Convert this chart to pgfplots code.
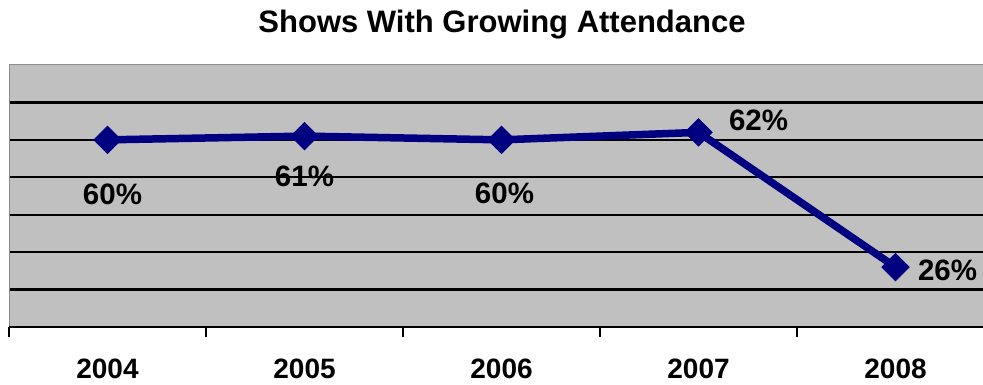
\documentclass[border=0pt]{standalone}
\usepackage{fontspec}
\setmainfont{Liberation Sans}
\usepackage{pgfplots}
\usepackage{pgfplotstable}
\pgfplotsset{compat=1.18}

\definecolor{plotbg}{HTML}{C0C0C0}
\definecolor{navyline}{HTML}{000080}
\definecolor{frameline}{HTML}{8C8C8C}

% year index, share of shows, label offsets (pt)
\pgfplotstableread{
x y dx dy
0 60 5 -54
1 61 0 -40
2 60 3 -53
3 62 60 12
4 26 52 -3
}\attendance

\begin{document}
\begin{tikzpicture}
\node[font=\fontsize{31}{36}\selectfont\bfseries, anchor=base] at (493pt,294pt) {Shows With Growing Attendance};
\begin{axis}[
  at={(0pt,0pt)}, anchor=south west,
  scale only axis, width=974pt, height=262pt,
  xmin=-0.5, xmax=4.444, ymin=10, ymax=80,
  axis background/.style={fill=plotbg},
  axis line style={draw=none},
  xtick={0,1,2,3,4},
  xticklabels={2004,2005,2006,2007,2008},
  xticklabel style={font=\fontsize{28}{33}\selectfont\bfseries, anchor=base, yshift=-47.5pt},
  major x tick style={draw=none},
  minor xtick={-0.5,0.5,1.5,2.5,3.5},
  minor x tick style={black, line width=1.8pt},
  minor tick length=10pt,
  tick align=outside,
  xtick pos=bottom,
  ytick={20,30,40,50,60,70},
  yticklabels={},
  ytick style={draw=none},
  ymajorgrids,
  major grid style={black, line width=2.2pt},
  clip=false,
  after end axis/.code={
    \draw[frameline, line width=1pt] (rel axis cs:0,0) -- (rel axis cs:0,1) -- (rel axis cs:1,1);
    \draw[black, line width=2.4pt] (rel axis cs:0,0) -- (rel axis cs:1,0);
  },
]
\addplot[
  navyline, line width=7.5pt,
  mark=square*, mark size=9.6pt,
  mark options={rotate=45, line width=1pt, fill=navyline},
  point meta=explicit,
  visualization depends on={\thisrow{dx} \as \dx},
  visualization depends on={\thisrow{dy} \as \dy},
  nodes near coords={\pgfmathprintnumber[assume math mode=true]{\pgfplotspointmeta}\%},
  every node near coord/.append style={
    font=\fontsize{29.5}{34}\selectfont\bfseries, text=black,
    anchor=center, xshift=\dx pt, yshift=\dy pt},
] table[x=x, y=y, meta=y] {\attendance};
\end{axis}
\pgfresetboundingbox
\useasboundingbox (-9pt,-58pt) rectangle (974pt,327pt);
\end{tikzpicture}
\end{document}
